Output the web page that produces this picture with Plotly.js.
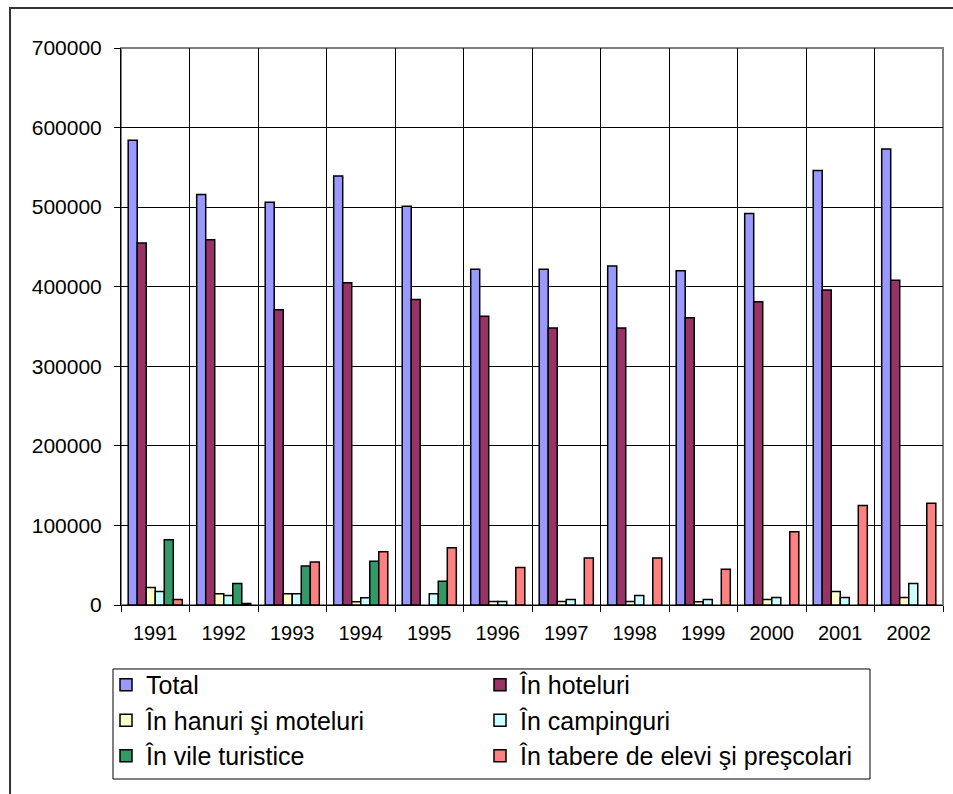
<!DOCTYPE html>
<html>
<head>
<meta charset="utf-8">
<script src="https://cdn.plot.ly/plotly-3.0.1.min.js"></script>
<style>
html,body{margin:0;padding:0;background:#fff;}
#chart{width:953px;height:794px;}
</style>
</head>
<body>
<div id="chart"></div>
<script>
const years = ['1991','1992','1993','1994','1995','1996','1997','1998','1999','2000','2001','2002'];
const total      = [584000, 516000, 506000, 539000, 501000, 422000, 422000, 426000, 420000, 492000, 546000, 573000];
const hoteluri   = [455000, 459000, 371000, 405000, 384000, 363000, 348000, 348000, 361000, 381000, 396000, 408000];
const hanuri     = [22000, 14000, 14000, 4000, null, 4500, 4500, 4500, 4000, 7000, 17000, 9500];
const campinguri = [17000, 12000, 14000, 9000, 14000, 4500, 7000, 12000, 7000, 9500, 9500, 27000];
const vile       = [82000, 27000, 49000, 55000, 30000, null, null, null, null, null, null, null];
const tabere     = [7000, 2000, 54000, 67000, 72000, 47000, 59000, 59000, 45000, 92000, 125000, 128000];

const names = ['Total', 'În hoteluri', 'În hanuri şi moteluri', 'În campinguri', 'În vile turistice', 'În tabere de elevi şi preşcolari'];
const series = [total, hoteluri, hanuri, campinguri, vile, tabere];
const colors = ['#9999FF', '#993366', '#FFFFCC', '#CCFFFF', '#339966', '#FF8080'];

const FONT = '"Liberation Sans", Arial, sans-serif';

const traces = series.map((s, i) => ({
  type: 'bar',
  x: years,
  y: s,
  name: names[i],
  marker: {color: colors[i], line: {color: '#000', width: 1.5}},
  hoverinfo: 'none'
}));

const layout = {
  width: 953,
  height: 794,
  margin: {l: 121, r: 10, t: 48, b: 189},
  paper_bgcolor: '#fff',
  plot_bgcolor: '#fff',
  font: {family: FONT, color: '#000'},
  barmode: 'group',
  bargap: 0.21,
  bargroupgap: 0,
  showlegend: true,
  legend: {
    orientation: 'h',
    x: -0.01825, xanchor: 'left',
    y: -0.1023, yanchor: 'top',
    entrywidth: 329,
    entrywidthmode: 'pixels',
    bgcolor: 'rgba(0,0,0,0)',
    borderwidth: 0,
    font: {family: FONT, size: 25, color: '#000'},
    traceorder: 'normal'
  },
  xaxis: {
    type: 'category',
    tickson: 'boundaries',
    showgrid: true,
    gridcolor: '#000',
    gridwidth: 1,
    showline: true,
    linecolor: '#000',
    linewidth: 1,
    ticks: 'outside',
    ticklen: 6,
    tickcolor: '#000',
    ticklabelstandoff: 10,
    tickfont: {family: FONT, size: 20, color: '#000'},
    fixedrange: true
  },
  yaxis: {
    range: [0, 700000],
    dtick: 100000,
    tick0: 0,
    tickformat: 'd',
    showgrid: true,
    gridcolor: '#000',
    gridwidth: 1,
    zeroline: false,
    showline: true,
    linecolor: '#000',
    linewidth: 1,
    ticks: 'outside',
    ticklen: 6,
    tickcolor: '#000',
    ticklabelstandoff: 8,
    tickfont: {family: FONT, size: 21, color: '#000'},
    fixedrange: true
  },
  shapes: [
    {type: 'rect', xref: 'paper', yref: 'paper', x0: 0, x1: 1, y0: 0, y1: 1,
     line: {color: '#808080', width: 2}, layer: 'below'},
    {type: 'rect', xref: 'paper', yref: 'paper', x0: -0.135, x1: 1.03, y0: -0.36, y1: 1.0718,
     line: {color: '#333', width: 2}, layer: 'below'},
    {type: 'rect', xref: 'paper', yref: 'paper', x0: -0.00973, x1: 0.9112, y0: -0.3124, y1: -0.1149,
     line: {color: '#000', width: 1}, layer: 'below'}
  ]
};

Plotly.newPlot('chart', traces, layout, {staticPlot: true, displayModeBar: false});
</script>
</body>
</html>
